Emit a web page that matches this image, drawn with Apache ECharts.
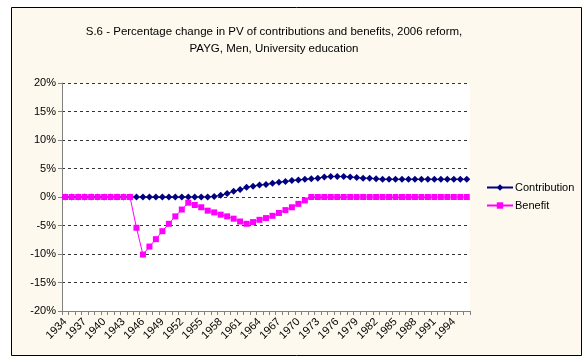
<!DOCTYPE html>
<html>
<head>
<meta charset="utf-8">
<script src="https://cdn.jsdelivr.net/npm/echarts@6/dist/echarts.min.js"></script>
<style>
  html, body { margin: 0; padding: 0; background: #ffffff; }
  #chart { width: 583px; height: 360px; }
</style>
</head>
<body>
<div id="chart"></div>
<script>
// Birth cohorts (years) on the category axis
const years = [];
for (let y = 1934; y <= 1996; y++) years.push(String(y));

// Percentage change in present value of contributions, by cohort
const contribution = [
  0, 0, 0, 0, 0, 0, 0, 0, 0, 0,
  0, 0, 0, 0, 0, 0, 0, 0, 0, 0,
  0, 0, 0, 0.1, 0.3, 0.6, 1.0, 1.3, 1.7, 1.9,
  2.1, 2.2, 2.4, 2.6, 2.7, 2.9, 3.0, 3.1, 3.2, 3.3,
  3.5, 3.6, 3.6, 3.6, 3.5, 3.4, 3.3, 3.3, 3.2, 3.1,
  3.1, 3.1, 3.1, 3.1, 3.1, 3.1, 3.1, 3.1, 3.1, 3.1,
  3.1, 3.1, 3.1
];

// Percentage change in present value of benefits, by cohort
const benefit = [
  0, 0, 0, 0, 0, 0, 0, 0, 0, 0,
  0, -5.4, -10.1, -8.7, -7.4, -6.0, -4.7, -3.4, -2.2, -1.0,
  -1.4, -1.8, -2.4, -2.7, -3.1, -3.4, -3.8, -4.3, -4.7, -4.4,
  -4.0, -3.7, -3.3, -2.8, -2.3, -1.8, -1.2, -0.6, 0, 0,
  0, 0, 0, 0, 0, 0, 0, 0, 0, 0,
  0, 0, 0, 0, 0, 0, 0, 0, 0, 0,
  0, 0, 0
];

const yMin = -20, yMax = 20, yStep = 5;

const font = 'Liberation Sans, Arial, sans-serif';
const chart = echarts.init(document.getElementById('chart'), null, { renderer: 'canvas' });

chart.setOption({
  backgroundColor: '#ffffff',
  animation: false,
  textStyle: { fontFamily: font, color: '#000' },
  graphic: [{
    type: 'rect',
    z: -10,
    shape: { x: 11.5, y: 7.5, width: 570, height: 348 },
    style: { fill: '#FDF9EE', stroke: '#000', lineWidth: 1 }
  }],
  title: {
    text: 'S.6 - Percentage change in PV of contributions and benefits, 2006 reform,\nPAYG, Men, University education',
    left: 269,
    top: 18,
    textAlign: 'center',
    textStyle: { fontFamily: font, fontSize: 11.5, fontWeight: 'normal', color: '#000', lineHeight: 17 }
  },
  legend: {
    orient: 'vertical',
    left: 481,
    top: 177,
    itemWidth: 26,
    itemHeight: 8,
    itemGap: 7,
    textStyle: { fontFamily: font, fontSize: 11, color: '#000', padding: [0, 0, 0, -3] },
    data: ['Contribution', 'Benefit']
  },
  grid: {
    left: 62, right: 113, top: 83, bottom: 49,
    show: true, backgroundColor: '#ffffff', borderWidth: 0
  },
  xAxis: {
    type: 'category',
    data: years,
    boundaryGap: true,
    axisLine: { onZero: false, lineStyle: { color: '#808080', width: 1 } },
    axisTick: { show: true, interval: 0, length: 4, lineStyle: { color: '#808080' } },
    axisLabel: { interval: 2, rotate: 45, fontSize: 11, color: '#000', fontFamily: font, margin: 9 },
    splitLine: { show: false }
  },
  yAxis: {
    type: 'value',
    min: yMin, max: yMax, interval: yStep,
    axisLine: { show: true, lineStyle: { color: '#808080', width: 1 } },
    axisTick: { show: true, length: 4, lineStyle: { color: '#808080' } },
    axisLabel: { formatter: '{value}%', fontSize: 11, color: '#000', fontFamily: font, margin: 6 },
    splitLine: { show: true, lineStyle: { color: '#333', type: [3, 3], width: 1 } }
  },
  series: [
    {
      name: 'Contribution',
      type: 'line',
      data: contribution,
      symbol: 'diamond',
      symbolSize: 7,
      showAllSymbol: true,
      itemStyle: { color: '#000080' },
      lineStyle: { color: '#000080', width: 1 },
      z: 2
    },
    {
      name: 'Benefit',
      type: 'line',
      data: benefit,
      symbol: 'rect',
      symbolSize: 6,
      showAllSymbol: true,
      itemStyle: { color: '#FF00FF' },
      lineStyle: { color: '#FF00FF', width: 1 },
      z: 3
    }
  ]
});
</script>
</body>
</html>
